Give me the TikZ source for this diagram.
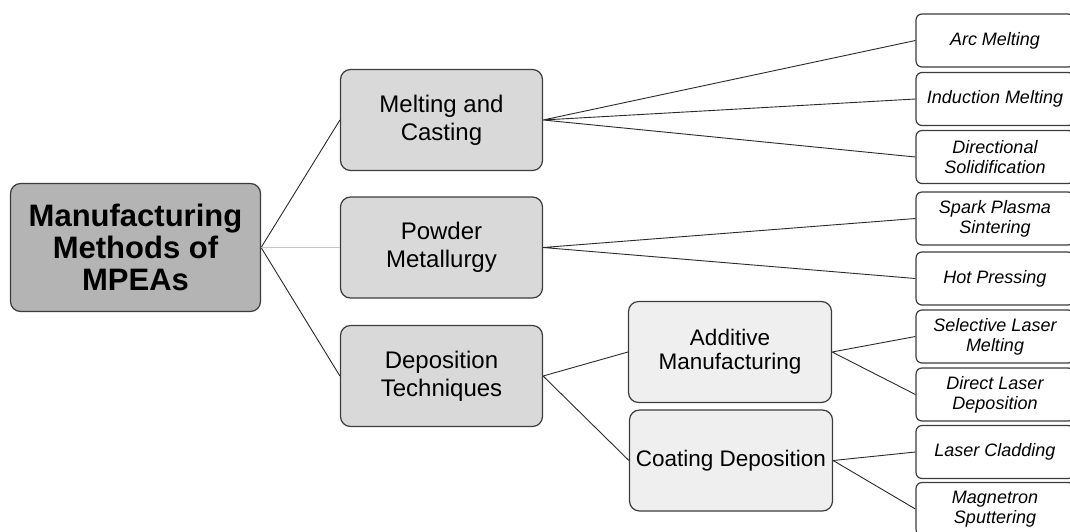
\documentclass[tikz,border=0pt]{standalone}
\usepackage{fontspec}
\setmainfont{Liberation Sans}
\usepackage{tikz}
\usetikzlibrary{positioning}
\usepackage{xcolor}
\definecolor{boxline}{HTML}{3C3C3C}
\definecolor{linkgray}{HTML}{2A2A2A}
\definecolor{rootgray}{HTML}{B4B4B4}
\definecolor{groupgray}{HTML}{D9D9D9}
\definecolor{subgray}{HTML}{EFEFEF}

\begin{document}
\begin{tikzpicture}
    [   x=1pt, y=-1pt
    ,   box/.style=
        {   draw=boxline
        ,   line width=1.2pt
        ,   rounded corners=10pt
        ,   align=center
        ,   inner sep=0pt
        }
    ,   rootbox/.style=
        {   box
        ,   fill=rootgray
        ,   minimum width=250pt
        ,   minimum height=128pt
        ,   font=\fontsize{31}{32}\selectfont\bfseries
        }
    ,   groupbox/.style=
        {   box
        ,   fill=groupgray
        ,   minimum width=202pt
        ,   minimum height=101pt
        ,   font=\fontsize{24}{28}\selectfont
        }
    ,   subbox/.style=
        {   box
        ,   fill=subgray
        ,   minimum width=203pt
        ,   minimum height=101pt
        ,   font=\fontsize{22.5}{24}\selectfont
        }
    ,   leafbox/.style=
        {   box
        ,   fill=white
        ,   rounded corners=6pt
        ,   minimum width=158pt
        ,   minimum height=53pt
        ,   font=\fontsize{18}{20}\selectfont\itshape
        }
    ,   link/.style=
        {   draw=linkgray
        ,   line width=0.9pt
        }
    ]
    \useasboundingbox (0,0) rectangle (1070,531);
    \clip (0,0) rectangle (1070,531);

    % root and first level
    \node[rootbox] (root) at (135.5, 247.5) {Manufacturing\\Methods of\\MPEAs};
    \node[groupbox] (melt) at (441.5, 120) {Melting and\\Casting};
    \node[groupbox] (powder) at (441.5, 247.5) {Powder\\Metallurgy};
    \node[groupbox] (depo) at (441.5, 376) {Deposition\\Techniques};

    % second level
    \node[subbox] (additive) at (730, 352) {Additive\\Manufacturing};
    \node[subbox] (coating) at (731, 460.5) {Coating Deposition};

    % leaves
    \node[leafbox] (arc) at (995, 40.5) {Arc Melting};
    \node[leafbox] (induction) at (995, 99) {Induction Melting};
    \node[leafbox] (solid) at (995, 157) {Directional\\Solidification};
    \node[leafbox] (sps) at (995, 218.5) {Spark Plasma\\Sintering};
    \node[leafbox] (hot) at (995, 278.5) {Hot Pressing};
    \node[leafbox] (slm) at (995, 336.5) {Selective Laser\\Melting};
    \node[leafbox] (dld) at (995, 394.5) {Direct Laser\\Deposition};
    \node[leafbox] (clad) at (995, 452) {Laser Cladding};
    \node[leafbox] (sputter) at (995, 509) {Magnetron\\Sputtering};

    % connectors
    \draw[link] (root.east) -- (melt.west)
                (root.east) -- (depo.west);
    \draw[link, draw=black!22] (root.east) -- (powder.west);
    \draw[link] (melt.east) -- (arc.west)
                (melt.east) -- (induction.west)
                (melt.east) -- (solid.west);
    \draw[link] (powder.east) -- (sps.west)
                (powder.east) -- (hot.west);
    \draw[link] (depo.east) -- (additive.west)
                (depo.east) -- (coating.west);
    \draw[link] (additive.east) -- (slm.west)
                (additive.east) -- (dld.west);
    \draw[link] (coating.east) -- (clad.west)
                (coating.east) -- (sputter.west);
\end{tikzpicture}
\end{document}
